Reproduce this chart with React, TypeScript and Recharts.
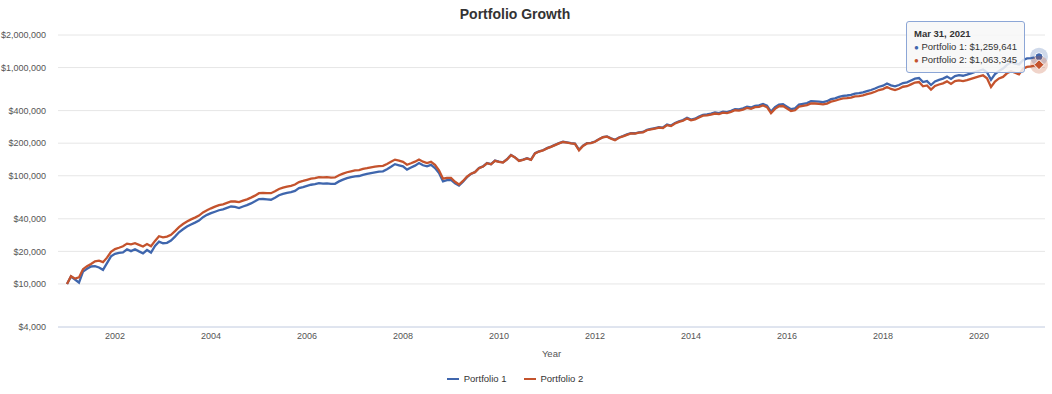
import React from 'react';
import { LineChart, Line, XAxis, YAxis, CartesianGrid, Tooltip } from 'recharts';

// month-end values in $ thousands, first point = Dec 31, 2000
const portfolio1 = [
  10.0, 11.7, 11.0, 10.3, 13.0, 13.8, 14.5, 14.6, 14.2, 13.5, 15.6, 18.0,
  19.0, 19.4, 19.6, 20.9, 20.1, 20.9, 20.0, 19.2, 20.6, 19.5, 22.5, 24.6,
  23.8, 24.0, 25.2, 27.4, 30.0, 32.0, 34.0, 35.5, 36.9, 38.5, 41.4, 43.5,
  45.1, 46.5, 48.0, 49.0, 50.5, 52.0, 51.5, 50.3, 52.0, 53.5, 55.5, 58.0,
  60.9, 61.0, 60.5, 60.0, 62.5, 66.0, 68.0, 69.5, 70.5, 72.5, 76.8, 78.5,
  80.5, 82.6, 83.5, 85.5, 84.5, 85.0, 84.0, 84.3, 88.7, 92.0, 95.0, 97.0,
  98.8, 99.5, 102, 104, 106, 107.5, 109, 110, 115, 121, 128, 125,
  122, 114, 119, 124, 131, 125, 122, 126, 118, 106, 88.7, 91,
  91.7, 85, 81, 88, 97, 104, 108, 118, 122, 131, 128, 138,
  135, 133, 142, 156, 148, 138, 141, 145, 141, 162, 168, 172,
  180, 186, 193, 200, 206, 203, 200, 198, 174, 190, 200, 201,
  207, 218, 228, 231, 222, 215, 226, 233, 241, 248, 247, 252,
  254, 266, 271, 276, 281, 279, 297, 291, 308, 319, 327, 343,
  330, 337, 352, 366, 369, 375, 384, 380, 392, 388, 399, 413,
  410, 420, 435, 428, 443, 447, 460, 445, 392, 430, 455, 458,
  435, 413, 420, 455, 462, 470, 489, 488, 485, 480, 489, 510,
  520, 535, 548, 552, 560, 575, 580, 590, 605, 620, 640, 665,
  680, 712, 685, 670, 690, 720, 730, 760, 790, 800, 735, 750,
  690, 745, 770, 790, 825, 785, 835, 850, 840, 860, 885, 910,
  935, 960, 905, 770, 870, 930, 980, 1060, 1120, 1090, 1070, 1170,
  1215, 1225, 1240, 1259.641,
];

const portfolio2 = [
  10.0, 11.8, 11.2, 11.5, 13.7, 14.6, 15.3, 16.2, 16.4, 15.9, 17.5, 19.8,
  21.0, 21.6, 22.3, 23.6, 23.2, 23.8, 23.0, 22.2, 23.4, 22.3, 25.0, 27.6,
  27.0, 27.4, 28.5, 30.8, 33.5, 35.8, 37.8, 39.5, 41.0, 42.8, 45.8, 48.0,
  50.0, 51.8, 53.5, 54.5, 56.2, 58.0, 57.8, 57.0, 58.8, 60.5, 62.8, 65.5,
  69.0, 69.5, 69.2, 69.0, 71.8, 75.5, 77.8, 79.5, 80.8, 83.0, 87.5, 89.5,
  91.8, 94.0, 95.0, 97.2, 96.5, 97.2, 96.0, 96.5, 101, 104.5, 107.8, 110,
  112, 112.8, 115.5, 117.5, 119.8, 121.3, 122.8, 123.5, 128.5, 134.5, 141, 138,
  134.5, 126.5, 130.5, 135, 141.5, 135, 131, 134.5, 126, 112.5, 94, 95.5,
  95.5, 88, 83, 89.5, 98, 104.5, 108, 117.5, 121.5, 130.5, 127.5, 137.5,
  134.5, 132.5, 141.5, 155, 147.5, 137, 140.5, 144.5, 140.5, 161, 167.5, 171.5,
  179, 185, 192, 199, 205, 202, 199, 197, 172, 188.5, 199, 200,
  206, 217, 227, 229.5, 220.5, 213.5, 224.5, 231, 239, 246, 245, 250,
  252, 263.5, 268.5, 273, 278, 276, 293.5, 287.5, 304, 314.5, 322.5, 338,
  325, 331.5, 346, 359.5, 362, 367.5, 376, 372, 383.5, 379, 389.5, 403,
  399.5, 408.5, 423, 416, 430, 433.5, 446, 431, 378.5, 415, 439, 441.5,
  419, 396.5, 403, 436, 442.5, 449.5, 467, 465.5, 462.5, 457, 465, 484.5,
  493.5, 507, 518.5, 521.5, 528, 541.5, 545.5, 554, 567, 580, 597.5, 620,
  633, 661, 634.5, 619.5, 637.5, 665, 673, 699.5, 727, 734.5, 671.5, 684,
  626.5, 676, 697.5, 714.5, 745.5, 706.5, 749, 761.5, 750.5, 766.5, 787, 808,
  828.5, 848, 795, 662, 744, 793.5, 820, 885, 925, 895, 865, 975,
  1015, 1025, 1045, 1063.345,
];

const yearTicks = [2002, 2004, 2006, 2008, 2010, 2012, 2014, 2016, 2018, 2020];
const valueTicks = [4000, 10000, 20000, 40000, 100000, 200000, 400000, 1000000, 2000000];
const MONTHS = ['Jan', 'Feb', 'Mar', 'Apr', 'May', 'Jun', 'Jul', 'Aug', 'Sep', 'Oct', 'Nov', 'Dec'];

const BLUE = '#3f66ad';
const RED = '#c4532d';
const FONT = '"Liberation Sans", Arial, Helvetica, sans-serif';

const data = portfolio1.map((v, i) => {
  const d = new Date(2001, i, 0);
  return {
    t: 2001 + i / 12,
    label: `${MONTHS[d.getMonth()]} ${d.getDate()}, ${d.getFullYear()}`,
    p1: v * 1000,
    p2: portfolio2[i] * 1000,
  };
});

const money = (v: number) => '$' + Math.round(v).toLocaleString('en-US');

function TipBox({ active, payload }: any) {
  if (!active || !payload || !payload.length) return null;
  const row = payload[0].payload;
  return (
    <div style={{
      background: 'rgba(247,247,247,0.85)', border: '1px solid #8ca6d6', borderRadius: 3,
      padding: '6px 7px 5px 7px', fontFamily: FONT, fontSize: 9.5, color: '#333', lineHeight: '12px',
      width: 103, whiteSpace: 'nowrap', boxSizing: 'content-box',
    }}>
      <div style={{ fontWeight: 'bold', marginBottom: 1 }}>{row.label}</div>
      <div><span style={{ color: BLUE, fontSize: 8 }}>●</span> Portfolio 1: {money(row.p1)}</div>
      <div><span style={{ color: RED, fontSize: 8 }}>●</span> Portfolio 2: {money(row.p2)}</div>
    </div>
  );
}

const BlueDot = (p: any) => (
  <g>
    <circle cx={p.cx} cy={p.cy} r={9} fill={BLUE} fillOpacity={0.25} />
    <circle cx={p.cx} cy={p.cy} r={4} fill={BLUE} stroke="#fff" strokeWidth={1} />
  </g>
);

const RedDot = (p: any) => (
  <g>
    <circle cx={p.cx} cy={p.cy} r={9} fill={RED} fillOpacity={0.25} />
    <path d={`M${p.cx},${p.cy - 5}L${p.cx + 5},${p.cy}L${p.cx},${p.cy + 5}L${p.cx - 5},${p.cy}Z`} fill={RED} stroke="#fff" strokeWidth={1} />
  </g>
);

export default function App() {
  return (
    <div style={{ position: 'relative', width: 1052, height: 394, background: '#fff', fontFamily: FONT }}>
      <style>{'body{margin:0}'}</style>
      <div style={{ position: 'absolute', left: 0, top: 6, width: 1030, textAlign: 'center', fontSize: 14, fontWeight: 'bold', color: '#333' }}>
        Portfolio Growth
      </div>
      <LineChart width={1052} height={394} data={data} margin={{ top: 35, right: 7, bottom: 0, left: 0 }}>
        <CartesianGrid horizontal vertical={false} stroke="#e6e6e6" />
        <XAxis
          dataKey="t" type="number" domain={[2000.8125, 2021.375]} ticks={yearTicks}
          height={67} tickLine={false} tickMargin={0} axisLine={{ stroke: '#ccd6eb' }}
          tick={{ fontSize: 9, fill: '#555', fontFamily: FONT }}
          label={{ value: 'Year', position: 'insideBottom', offset: 37, fontSize: 9.5, fill: '#555', fontFamily: FONT }}
        />
        <YAxis
          scale="log" domain={[4000, 2000000]} ticks={valueTicks} allowDataOverflow
          width={58} tickLine={false} axisLine={false} tickMargin={6}
          tickFormatter={money} tick={{ fontSize: 9, fill: '#555', fontFamily: FONT }}
        />
        <Tooltip
          content={<TipBox />} defaultIndex={data.length - 1} active cursor={false}
          position={{ x: 906, y: 21 }} isAnimationActive={false} wrapperStyle={{ outline: 'none' }}
        />
        <Line dataKey="p1" name="Portfolio 1" stroke={BLUE} strokeWidth={2.3} dot={false} activeDot={BlueDot} isAnimationActive={false} />
        <Line dataKey="p2" name="Portfolio 2" stroke={RED} strokeWidth={2.3} dot={false} activeDot={RedDot} isAnimationActive={false} />
      </LineChart>
      <div style={{ position: 'absolute', left: 0, top: 373, width: 1030, display: 'flex', justifyContent: 'center', gap: 17, fontSize: 9.5, color: '#333' }}>
        {[['Portfolio 1', BLUE], ['Portfolio 2', RED]].map(([name, c]) => (
          <div key={name} style={{ display: 'flex', alignItems: 'center' }}>
            <span style={{ display: 'inline-block', width: 12, height: 2, background: c, marginRight: 5 }} />
            <span>{name}</span>
          </div>
        ))}
      </div>
    </div>
  );
}
